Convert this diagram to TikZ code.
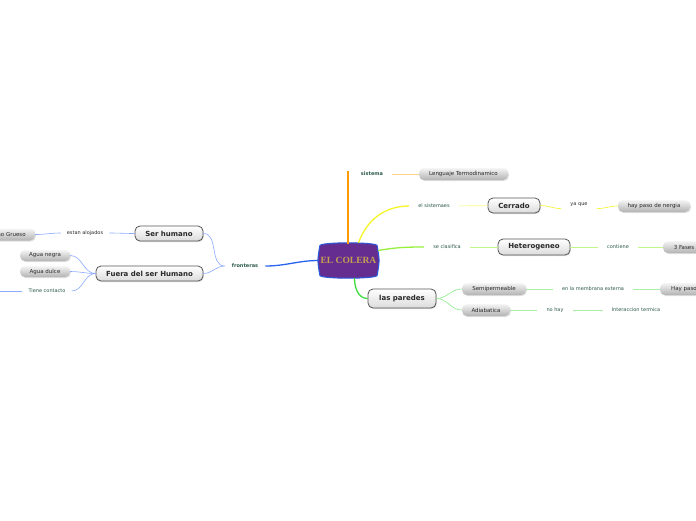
\documentclass[tikz,border=0pt]{standalone}
\usepackage{fontspec}
\setmainfont{DejaVu Sans}
\newfontfamily\rootfont{Liberation Serif}
\usetikzlibrary{shadows,backgrounds}
\definecolor{cRoot}{RGB}{102,45,145}
\definecolor{cRootEdge}{RGB}{40,90,220}
\definecolor{cGold}{RGB}{196,160,80}
\definecolor{cLbl}{RGB}{45,90,75}
\definecolor{cTxt}{RGB}{40,40,40}
\definecolor{cEdge}{RGB}{85,85,85}
\definecolor{cOrange}{RGB}{255,153,0}
\definecolor{cYellow}{RGB}{245,245,40}
\definecolor{cLime}{RGB}{150,240,60}
\definecolor{cGreen}{RGB}{60,220,60}
\definecolor{cBlue}{RGB}{40,100,240}
\definecolor{cSky}{RGB}{140,170,255}
\tikzset{
  centralbox/.style={
    rectangle, text=cGold, font=\rootfont\bfseries\fontsize{9.5}{10}\selectfont,
    minimum width=59, minimum height=33, inner sep=0pt,
  },
  centralfill/.style={fill=cRoot, draw=cRootEdge, line width=1pt},
  mainbox/.style={
    rectangle, rounded corners=5pt, draw=cEdge, line width=0.8pt,
    top color=white, bottom color=black!14, text=cTxt,
    font=\bfseries\fontsize{7}{8}\selectfont,
    minimum height=15, inner sep=0pt,
    drop shadow={opacity=0.25, shadow xshift=0.8pt, shadow yshift=-1pt},
  },
  leafbox/.style={
    rectangle, rounded corners=5pt,
    top color=black!4, bottom color=black!30, text=cTxt,
    font=\fontsize{5.5}{6}\selectfont,
    minimum height=12, inner sep=0pt,
    drop shadow={opacity=0.25, shadow xshift=0.8pt, shadow yshift=-1pt},
  },
  lbl/.style={
    text=cLbl, font=\fontsize{5}{6}\selectfont,
    inner xsep=9pt, inner ysep=1.5pt,
  },
  branch/.style={line width=1.3pt},
  twig/.style={line width=0.6pt},
}
\begin{document}
\begin{tikzpicture}[x=1pt, y=1pt]

\useasboundingbox (0,0) rectangle (696,-520);

\node[centralbox] (root) at (348.5,-260.5) {EL COLERA};

\begin{scope}[on background layer]
\fill[white] (0,0) rectangle (696,-520);
\path[centralfill]
  ([xshift=1pt,yshift=-2pt]root.north west)
    .. controls ([yshift=2pt]root.north west) and ([yshift=2pt]root.north east)
    .. ([xshift=-1pt,yshift=-2pt]root.north east)
    .. controls ([xshift=1.5pt]root.east)
    .. ([xshift=-1pt,yshift=2pt]root.south east)
    .. controls ([yshift=-2pt]root.south east) and ([yshift=-2pt]root.south west)
    .. ([xshift=1pt,yshift=2pt]root.south west)
    .. controls ([xshift=-1.5pt]root.west)
    .. cycle;
\end{scope}

\node[lbl, font=\bfseries\fontsize{5}{6}\selectfont] (sistema) at (372,-174) {sistema};
\node[leafbox, minimum width=89] (lenguaje) at (463.5,-174) {Lenguaje Termodinamico};
\coordinate (sisTop) at (348,-171);

\node[lbl] (elsis) at (434,-206) {el sistemaes};
\node[mainbox, minimum width=52] (cerrado) at (514,-205.5) {Cerrado};
\node[lbl, text=cTxt] (yaque) at (579,-205) {ya que};
\node[leafbox, minimum width=72] (nergia) at (654,-206) {hay paso de nergia};

\node[lbl] (clasif) at (447,-247) {se clasifica};
\node[mainbox, minimum width=72, minimum height=16] (hetero) at (534,-247) {Heterogeneo};
\node[lbl] (contiene) at (618,-247) {contiene};
\node[leafbox, minimum width=42] (fases) at (684,-247) {3 Fases};

\node[mainbox, minimum width=68, minimum height=19] (paredes) at (402,-298.5) {las paredes};
\node[leafbox, minimum width=64] (semi) at (494,-289) {Semipermeable};
\node[leafbox, minimum width=48] (adia) at (486,-310) {Adiabatica};
\node[lbl] (membrana) at (593,-289) {en la membrana externa};
\node[leafbox, minimum width=48] (haypaso) at (684,-289) {Hay paso};
\node[lbl] (nohay) at (555,-310) {no hay};
\node[lbl] (interac) at (636,-310) {Interaccion termica};

\node[lbl, font=\bfseries\fontsize{5}{6}\selectfont, inner xsep=7pt] (fronteras) at (245,-266) {fronteras};
\node[mainbox, minimum width=68] (serh) at (169,-233.5) {Ser humano};
\node[mainbox, minimum width=107] (fuera) at (149.5,-273.5) {Fuera del ser Humano};
\node[lbl, text=cTxt, inner xsep=6pt] (alojados) at (85,-233) {estan alojados};
\node[leafbox, minimum width=64] (grueso) at (3,-234.5) {Intestino Grueso};
\node[leafbox, minimum width=50, minimum height=11] (negra) at (45,-255.5) {Agua negra};
\node[leafbox, minimum width=50, minimum height=11] (dulce) at (45,-271.5) {Agua dulce};
\node[lbl, inner xsep=6pt] (contacto) at (47,-291) {Tiene contacto};
\coordinate (contactoEnd) at (-2,-291);

\draw[branch, cOrange] ([xshift=-0.5pt]root.north) -- (sisTop);
\draw[twig, cOrange!45] (sistema) -- (lenguaje);

\draw[branch, cYellow] ([xshift=10pt,yshift=1pt]root.north) to[out=70, in=180] (elsis.west);
\draw[twig, cYellow!60] (elsis) -- (cerrado);
\draw[twig, cYellow] (cerrado.east) to[out=0, in=180] (yaque.south west);
\draw[twig, cYellow] (yaque.south east) to[out=0, in=180] (nergia.west);

\draw[branch, cLime] ([yshift=10pt]root.east) to[out=10, in=180] (clasif.west);
\draw[twig, cLime!60] (clasif) -- (hetero);
\draw[twig, cLime!60] (hetero) -- (contiene);
\draw[twig, cLime!60] (contiene) -- (fases);

\draw[branch, cGreen] ([xshift=6pt,yshift=-1pt]root.south) to[out=-90, in=180] (paredes.west);
\draw[twig, cGreen!60] (paredes.east) to[out=0, in=180] (semi.west);
\draw[twig, cGreen!60] (paredes.east) to[out=0, in=180] (adia.west);
\draw[twig, cGreen!45] (semi) -- (membrana);
\draw[twig, cGreen!45] (membrana) -- (haypaso);
\draw[twig, cGreen!45] (adia) -- (nohay);
\draw[twig, cGreen!45] (nohay) -- (interac);

\draw[branch, cBlue] (root.west) to[out=180, in=0] (fronteras.east);
\draw[twig, cSky] (fronteras.west) to[out=180, in=0] (serh.east);
\draw[twig, cSky] (fronteras.west) to[out=180, in=0] (fuera.east);
\draw[twig, cSky] (serh.west) to[out=180, in=0] (alojados.east);
\draw[twig, cSky] (alojados.west) to[out=180, in=0] (grueso.east);
\draw[twig, cSky] (fuera.west) to[out=180, in=0] (negra.east);
\draw[twig, cSky] (fuera.west) to[out=180, in=0] (dulce.east);
\draw[twig, cSky] (fuera.west) to[out=180, in=0] (contacto.east);
\draw[twig, cSky] (contacto.west) -- (contactoEnd);

\end{tikzpicture}
\end{document}
